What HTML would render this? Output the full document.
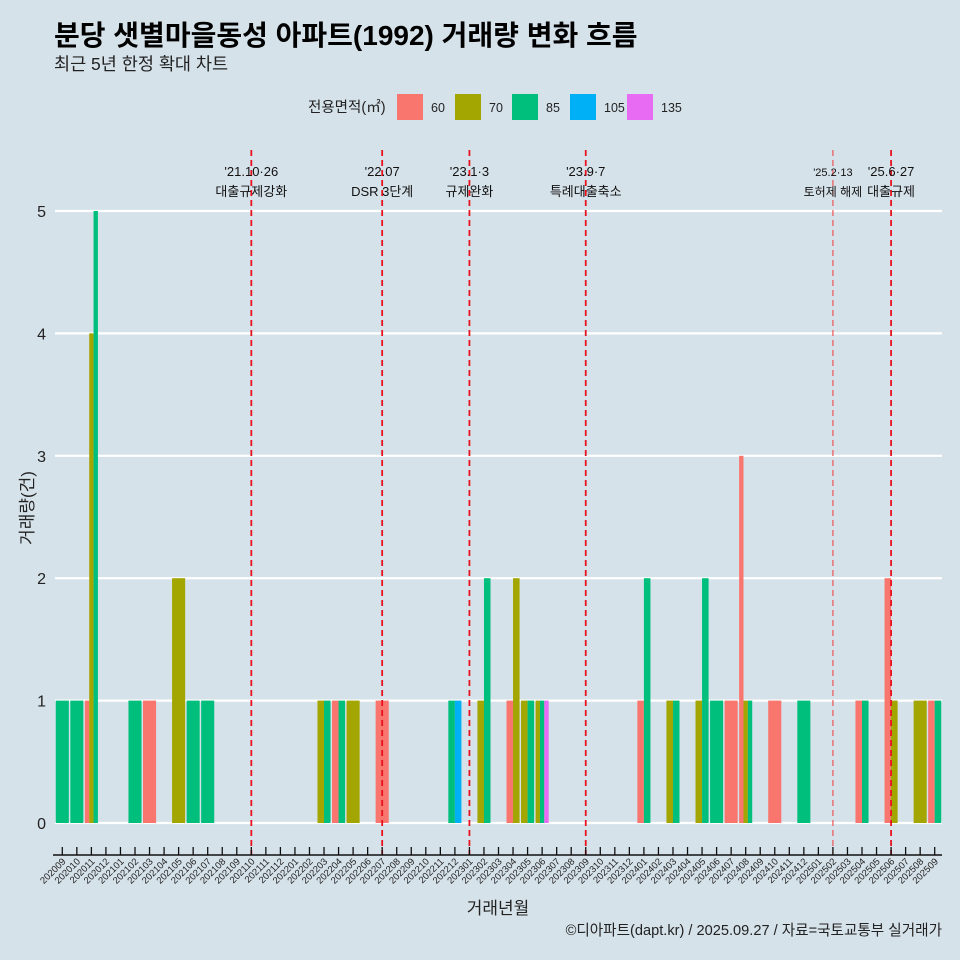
<!DOCTYPE html>
<html><head><meta charset="utf-8"><style>
body{margin:0;background:#d6e2ea;}
svg{display:block;font-family:"Liberation Sans","Noto Sans CJK KR",sans-serif;}
</style></head><body>
<svg id="c" width="960" height="960" viewBox="0 0 960 960">
<rect width="960" height="960" fill="#d6e2ea"/>
<text x="54" y="45" font-size="28" font-weight="bold" fill="#000">분당 샛별마을동성 아파트(1992) 거래량 변화 흐름</text>
<text x="54" y="70" font-size="17.5" fill="#222">최근 5년 한정 확대 차트</text>
<g id="legend"><text x="308" y="112" font-size="14.5" fill="#222">전용면적(㎡)</text></g>
<g id="grid"></g><g id="bars"></g><g id="events"></g><g id="axes"></g>
<text x="498" y="914" font-size="17" text-anchor="middle" fill="#222">거래년월</text>
<text transform="translate(33,508) rotate(-90)" font-size="17" text-anchor="middle" fill="#222">거래량(건)</text>
<text x="942" y="935" font-size="14.6" text-anchor="end" fill="#222">©디아파트(dapt.kr) / 2025.09.27 / 자료=국토교통부 실거래가</text>
</svg>
<script>
const months=[];for(let y=2020,m=9;months.length<61;){months.push(y+String(m).padStart(2,'0'));m++;if(m>12){m=1;y++;}}
const groups=['60','70','85','105','135'];
const colors=['#f8766d','#a3a500','#00bf7d','#00b0f6','#e76bf3'];
const s60 ={'202011':1,'202103':1,'202204':1,'202207':1,'202304':1,'202401':1,'202407':1,'202408':3,'202410':1,'202504':1,'202506':2,'202509':1};
const s70 ={'202011':4,'202105':2,'202203':1,'202205':1,'202302':1,'202304':2,'202305':1,'202306':1,'202403':1,'202405':1,'202408':1,'202506':1,'202508':1};
const s85 ={'202009':1,'202010':1,'202011':5,'202102':1,'202106':1,'202107':1,'202203':1,'202204':1,'202212':1,'202302':2,'202305':1,'202306':1,'202401':2,'202403':1,'202405':2,'202406':1,'202408':1,'202412':1,'202504':1,'202509':1};
const s105={'202212':1};
const s135={'202306':1};
const series=[s60,s70,s85,s105,s135];
const yTicks=[0,1,2,3,4,5];
const eventMonths=['202110','202207','202301','202309','202502','202506'];
const eventDates=["'21.10·26","'22.07","'23.1·3","'23.9·7","'25.2·13","'25.6·27"];
const eventNames=["대출규제강화","DSR 3단계","규제완화","특례대출축소","토허제 해제","대출규제"];
const NS='http://www.w3.org/2000/svg';
function mk(t,a,p){const e=document.createElementNS(NS,t);for(const k in a)e.setAttribute(k,a[k]);p.appendChild(e);return e;}
const step=14.54,x0=62.3;
const X=i=>x0+step*i;
const Y=v=>823-v*122.4;
const grid=document.getElementById('grid'),bars=document.getElementById('bars'),ev=document.getElementById('events'),ax=document.getElementById('axes'),lg=document.getElementById('legend');
yTicks.forEach(t=>{
 const l=mk('line',{x1:55,x2:942,y1:Y(t),y2:Y(t),stroke:'#fff','stroke-width':2.2},grid);
 
 
 const tx=mk('text',{x:46,y:Y(t)+6,'font-size':16,'text-anchor':'end',fill:'#222'},grid);tx.textContent=t;
 
 
});
months.forEach((m,i)=>{
 const present=[];series.forEach((s,g)=>{if(s[m])present.push(g);});
 if(!present.length)return;
 const W=step*0.9,w=W/present.length;
 present.forEach((g,k)=>{
  const v=series[g][m];
  const r=mk('rect',{x:X(i)-W/2+k*w,y:Y(v),width:w,height:Y(0)-Y(v),fill:colors[g]},bars);
  
  
 });
});
eventMonths.forEach((m,j)=>{
 const i=months.indexOf(m),x=X(i),thin=m==='202502';
 const l=mk('line',{x1:x,x2:x,y1:150,y2:855,stroke:thin?'#ee5555':'#e8121e','stroke-width':thin?1.2:1.8,'stroke-dasharray':'6 4'},ev);
 
 
 const fs=thin?11:13;
 const t1=mk('text',{x:x,y:176,'font-size':fs,'text-anchor':'middle',fill:'#111'},ev);t1.textContent=eventDates[j];
 
 
 const t2=mk('text',{x:x,y:196,'font-size':thin?12:13,'text-anchor':'middle',fill:'#111'},ev);t2.textContent=eventNames[j];
 
 
});
const al=mk('line',{x1:53,x2:942,y1:855,y2:855,stroke:'#111','stroke-width':1.5},ax);


months.forEach((m,i)=>{
 const tk=mk('line',{x1:X(i),x2:X(i),y1:847,y2:855,stroke:'#111','stroke-width':1.3},ax);
 
 
 const t=mk('text',{transform:`translate(${X(i)+4},${862}) rotate(-45)`,'font-size':9.5,'text-anchor':'end',fill:'#222'},ax);t.textContent=m;
 
 
});
const lx=[397,455,512,570,627];
groups.forEach((g,k)=>{
 const r=mk('rect',{x:lx[k],y:94,width:26,height:26,fill:colors[k]},lg);
 
 
 const t=mk('text',{x:lx[k]+34,y:112,'font-size':12.5,fill:'#222'},lg);t.textContent=g;
 
 
});
</script>
</body></html>
